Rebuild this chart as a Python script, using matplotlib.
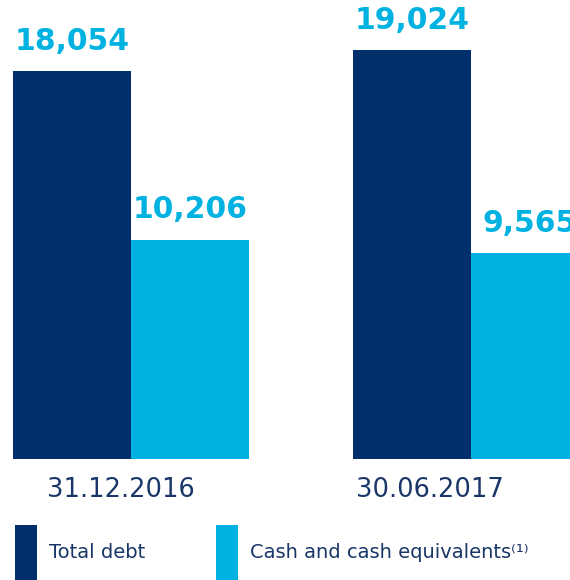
import matplotlib
matplotlib.use("Agg")
import matplotlib.pyplot as plt
import numpy as np

dates = ["31.12.2016", "30.06.2017"]
total_debt = [18054, 19024]
cash = [10206, 9565]
series_names = ["Total debt", "Cash and cash equivalents\u207d\u00b9\u207e"]

navy = "#002F6C"
cyan = "#00B2E2"
text_navy = "#1A3668"

fig = plt.figure(figsize=(5.7, 5.8), dpi=100)
ax = fig.add_axes([0, 121 / 580, 1, 459 / 580])

x = np.arange(len(dates))
w = 0.347
b1 = ax.bar(x - w / 2, total_debt, w, color=navy, label=series_names[0])
b2 = ax.bar(x + w / 2, cash, w, color=cyan, label=series_names[1])

for bars in (b1, b2):
    ax.bar_label(bars, labels=[f"{v:,}" for v in bars.datavalues], padding=11,
                 color=cyan, fontsize=21.5, fontweight="bold")

ax.set_xlim(-0.385, 1.291)
ax.set_ylim(0, 21350)
ax.axis("off")

# date labels under each group (sit a bit left of centre in the original)
shift = [-0.03, -0.12]
for i, d in enumerate(dates):
    ax.text(x[i] + shift[i], -850, d, ha="center", va="top",
            fontsize=18.5, color=text_navy)

fig.legend(loc="lower left", bbox_to_anchor=(0.026, 0.0), ncol=2,
           frameon=False, fontsize=14, handlelength=1.15, handleheight=3.95,
           columnspacing=3.65, handletextpad=0.6, labelcolor=text_navy,
           borderaxespad=0, borderpad=0)

fig.savefig("out.png", dpi=100)
